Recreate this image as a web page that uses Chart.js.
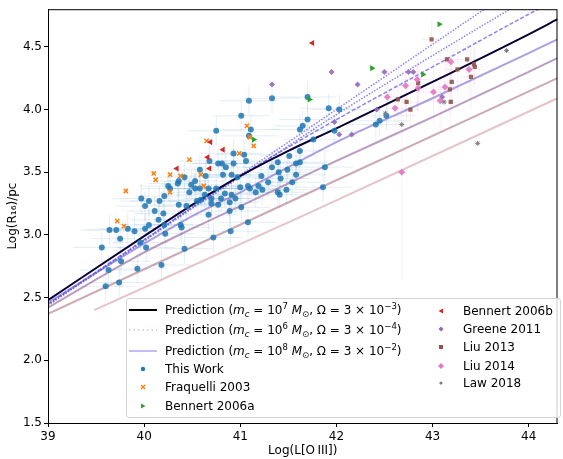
<!DOCTYPE html>
<html>
<head>
<meta charset="utf-8">
<script src="https://cdn.jsdelivr.net/npm/chart.js@4.4.1/dist/chart.umd.min.js"></script>
<style>
  body { margin: 0; background: #fff; }
  #wrap { position: relative; width: 563px; height: 459px; font-family: 'DejaVu Sans', sans-serif; }
  #legend {
    position: absolute; left: 126px; top: 298px; width: 433px; height: 118px;
    border: 1px solid #d4d4d4; border-radius: 3px; background: rgba(255,255,255,0.8);
    font-size: 12px; color: #000;
  }
  .row { position: absolute; display: flex; align-items: center; transform: translateY(-50%); white-space: nowrap; }
  .row svg { margin-right: 8px; flex: none; }
  .row sub, .row sup { font-size: 8.5px; line-height: 0; }
  .row i { font-style: italic; }
</style>
</head>
<body>
<div id="wrap">
  <canvas id="chart" width="563" height="459"></canvas>
  <div id="legend"></div>
</div>
<script>
// Prediction curves
const predL = [39, 40, 40.5, 41, 41.5, 42, 43, 44, 44.3];
const predBlack = [2.48, 2.99, 3.24, 3.47, 3.67, 3.85, 4.22, 4.60, 4.72];
const predDotted1 = [2.44, 2.96, 3.22, 3.48, 3.74, 4.00, 4.52, 5.04, 5.20];
const predDotted2 = [2.44, 2.95, 3.21, 3.46, 3.71, 3.96, 4.43, 4.89, 5.03];
const predDashed = [2.45, 2.96, 3.22, 3.47, 3.70, 3.92, 4.34, 4.76, 4.88];
const predPurple1 = [2.46, 2.93, 3.15, 3.34, 3.54, 3.74, 4.09, 4.45, 4.56];
const predPurple2 = [2.42, 2.86, 3.05, 3.23, 3.41, 3.59, 3.94, 4.30, 4.41];
const rosyL = [39, 41.7, 44.3];
const predRosy = [2.37, 3.33, 4.25];
const lightRosyL = [39.48, 41.7, 44.3];
const predLightRosy = [2.40, 3.17, 4.09];

// This Work
const thisWorkL = [
  39.56, 39.60, 39.63, 39.64, 39.71, 39.74, 39.75, 39.76, 39.83, 39.90,
  39.93, 39.96, 39.97, 40.01, 40.01, 40.02, 40.05, 40.05, 40.11, 40.15,
  40.16, 40.18, 40.20, 40.21, 40.21, 40.22, 40.25, 40.27, 40.35, 40.36,
  40.36, 40.38, 40.39, 40.42, 40.42, 40.44, 40.47, 40.49, 40.53, 40.53,
  40.55, 40.58, 40.58, 40.59, 40.63, 40.64, 40.67, 40.67, 40.68, 40.70,
  40.70, 40.72, 40.75, 40.75, 40.77, 40.77, 40.80, 40.81, 40.82, 40.84,
  40.85, 40.89, 40.89, 40.90, 40.91, 40.91, 40.93, 40.93, 40.95, 40.97,
  41.00, 41.01, 41.01, 41.04, 41.06, 41.08, 41.08, 41.09, 41.09, 41.10,
  41.11, 41.16, 41.19, 41.22, 41.23, 41.29, 41.33, 41.33, 41.39, 41.39,
  41.40, 41.41, 41.42, 41.48, 41.49, 41.51, 41.54, 41.58, 41.58, 41.62,
  41.62, 41.62, 41.65, 41.70, 41.70, 41.76, 41.86, 41.88, 41.92, 41.98,
  42.03, 42.41, 42.45, 42.52
];
const thisWorkR = [
  2.90, 2.59, 2.72, 3.04, 3.04, 2.62, 2.97, 2.79, 3.05, 3.03,
  2.73, 2.94, 3.29, 3.23, 3.05, 2.90, 3.27, 3.08, 3.19, 3.12,
  3.27, 2.76, 3.17, 3.31, 3.08, 3.01, 3.39, 3.37, 3.41, 3.43,
  3.24, 3.08, 3.06, 3.46, 2.89, 3.23, 3.34, 3.40, 3.43, 3.37,
  3.27, 3.52, 3.37, 3.28, 3.32, 3.47, 3.37, 3.16, 3.59, 3.29,
  3.25, 2.98, 3.83, 3.37, 3.57, 3.24, 3.29, 3.57, 3.48, 3.33,
  3.54, 3.26, 3.19, 3.03, 3.48, 3.32, 3.65, 3.57, 3.29, 3.46,
  3.38, 3.95, 3.22, 3.64, 3.59, 3.39, 3.10, 4.07, 3.79, 3.37,
  3.84, 3.34, 3.39, 3.47, 3.36, 3.42, 4.09, 3.54, 3.34, 3.58,
  3.50, 3.32, 3.45, 3.36, 3.52, 3.63, 3.42, 3.57, 3.48, 3.84,
  3.58, 3.67, 3.87, 4.10, 3.92, 3.76, 3.38, 3.54, 4.01, 3.83,
  4.00, 3.88, 3.91, 3.95
];
const THIS_WORK_LERR = 0.3;
const THIS_WORK_RERR = 0.12;

const fraquelliL = [40.47, 40.10, 40.27, 40.38, 40.12, 39.81, 40.27, 39.72, 39.79, 41.07, 41.10, 41.14, 40.65, 40.99, 40.59, 40.62];
const fraquelliR = [3.60, 3.49, 3.48, 3.47, 3.44, 3.35, 3.34, 3.11, 3.07, 3.87, 3.78, 3.71, 3.75, 3.65, 3.48, 3.39];

const bennertAL = [41.14, 41.72, 42.37, 42.90, 43.07];
const bennertAR = [3.76, 4.08, 4.33, 4.28, 4.68];

const bennertBL = [40.34, 40.69, 40.66, 40.82, 40.68, 41.75];
const bennertBR = [3.53, 3.74, 3.62, 3.68, 3.53, 4.53];

const greeneL = [41.33, 41.95, 42.22, 42.50, 42.75, 42.80, 41.98, 42.03, 42.16, 42.42, 43.10];
const greeneR = [4.20, 4.30, 4.20, 4.30, 4.30, 4.30, 3.90, 3.80, 3.80, 4.00, 4.10];

const liu13L = [42.99, 43.15, 43.36, 43.26, 43.43, 43.44, 43.40, 43.20, 43.18, 43.19, 42.85, 42.73, 42.64, 42.77];
const liu13R = [4.56, 4.40, 4.40, 4.32, 4.36, 4.34, 4.26, 4.22, 4.16, 4.06, 4.21, 4.06, 4.08, 4.00];
const liu13LErr = [0.10, 0.12, 0.10, 0.12, 0.10, 0.10, 0.12, 0.10, 0.12, 0.10, 0.10, 0.12, 0.10, 0.10];
const liu13RErr = [0.15, 0.20, 0.15, 0.20, 0.18, 0.15, 0.25, 0.20, 0.20, 0.25, 0.20, 0.15, 0.20, 0.15];

const liu14L = [43.19, 43.38, 42.84, 42.85, 42.72, 43.01, 43.13, 43.08, 42.61, 42.53, 42.68];
const liu14R = [4.38, 4.32, 4.24, 4.17, 4.19, 4.14, 4.18, 4.07, 4.01, 4.10, 3.50];
const liu14LErr = [0.12, 0.12, 0.15, 0.12, 0.12, 0.12, 0.15, 0.12, 0.12, 0.12, 0.06];
const liu14RErr = [0.20, 0.20, 0.25, 0.20, 0.20, 0.25, 0.20, 0.25, 0.20, 0.20, 0.85];

const lawL = [43.77, 43.47, 43.12, 42.68, 42.51];
const lawR = [4.47, 3.73, 4.06, 3.88, 3.97];

const pts = (xs, ys) => xs.map((x, i) => ({ x, y: ys[i] }));

const errorBars = {
  id: 'errorBars',
  beforeDatasetsDraw(chart) {
    const { ctx, chartArea, scales: { x, y } } = chart;
    ctx.save();
    ctx.beginPath();
    ctx.rect(chartArea.left, chartArea.top, chartArea.right - chartArea.left, chartArea.bottom - chartArea.top);
    ctx.clip();
    chart.data.datasets.forEach((ds) => {
      if (!ds.errors) return;
      ctx.strokeStyle = ds.errors.color;
      ctx.lineWidth = 1;
      ds.data.forEach((p, i) => {
        const xe = Array.isArray(ds.errors.x) ? ds.errors.x[i] : ds.errors.x;
        const ye = Array.isArray(ds.errors.y) ? ds.errors.y[i] : ds.errors.y;
        const px = x.getPixelForValue(p.x);
        const py = y.getPixelForValue(p.y);
        ctx.beginPath();
        ctx.moveTo(x.getPixelForValue(p.x - xe), py);
        ctx.lineTo(x.getPixelForValue(p.x + xe), py);
        ctx.moveTo(px, y.getPixelForValue(p.y - ye));
        ctx.lineTo(px, y.getPixelForValue(p.y + ye));
        ctx.stroke();
      });
    });
    ctx.restore();
  }
};

const frame = {
  id: 'frame',
  afterDraw(chart) {
    const { ctx, chartArea: a } = chart;
    ctx.save();
    ctx.strokeStyle = '#000';
    ctx.lineWidth = 1;
    ctx.strokeRect(a.left + 0.5, a.top + 0.5, a.right - a.left - 1, a.bottom - a.top);
    ctx.restore();
  }
};

function curve(xs, ys, color, width, dash) {
  return {
    type: 'line',
    data: pts(xs, ys),
    borderColor: color,
    borderWidth: width,
    borderDash: dash || [],
    pointRadius: 0,
    fill: false,
    cubicInterpolationMode: 'monotone',
  };
}

function marker(xs, ys, style, color, radius, extra) {
  return Object.assign({
    type: 'scatter',
    data: pts(xs, ys),
    pointStyle: style,
    backgroundColor: color,
    borderColor: color,
    borderWidth: 0,
    pointRadius: radius,
  }, extra || {});
}

const datasets = [
  marker(lawL, lawR, 'star', '#7f7f7f', 2.5, { borderWidth: 1 }),
  marker(liu14L, liu14R, 'rectRot', 'rgba(227,119,194,0.9)', 3.5, {
    errors: { x: liu14LErr, y: liu14RErr, color: 'rgba(227,119,194,0.12)' } }),
  marker(liu13L, liu13R, 'rect', 'rgba(140,86,75,0.9)', 3, {
    errors: { x: liu13LErr, y: liu13RErr, color: 'rgba(200,150,160,0.15)' } }),
  marker(greeneL, greeneR, 'rectRot', 'rgba(148,103,189,0.9)', 3),
  marker(bennertBL, bennertBR, 'triangle', '#d62728', 3.5, { rotation: -90 }),
  marker(bennertAL, bennertAR, 'triangle', '#2ca02c', 3.5, { rotation: 90 }),
  marker(fraquelliL, fraquelliR, 'crossRot', '#ff7f0e', 3, { borderWidth: 1.5 }),
  marker(thisWorkL, thisWorkR, 'circle', 'rgba(31,119,180,0.85)', 3, {
    errors: { x: THIS_WORK_LERR, y: THIS_WORK_RERR, color: 'rgba(31,119,180,0.12)' } }),
  curve(predL, predBlack, '#0a0033', 2),
  curve(predL, predDotted1, 'rgba(95,80,230,0.7)', 1.5, [1.5, 1.5]),
  curve(predL, predDotted2, 'rgba(95,80,230,0.7)', 1.5, [1.5, 1.5]),
  curve(predL, predDashed, 'rgba(95,80,230,0.7)', 1.5, [4, 2]),
  curve(predL, predPurple1, 'rgba(120,95,205,0.6)', 2),
  curve(predL, predPurple2, 'rgba(140,90,150,0.6)', 2),
  curve(rosyL, predRosy, 'rgba(160,100,120,0.55)', 2),
  curve(lightRosyL, predLightRosy, 'rgba(200,140,150,0.5)', 2),
];

const tickFont = { family: 'DejaVu Sans', size: 12 };

new Chart(document.getElementById('chart'), {
  type: 'scatter',
  data: { datasets },
  options: {
    responsive: false,
    animation: false,
    devicePixelRatio: 1,
    layout: { padding: { top: 3, right: 2, left: 0, bottom: 0 } },
    plugins: { legend: { display: false }, tooltip: { enabled: false } },
    scales: {
      x: {
        type: 'linear', min: 39, max: 44.3,
        afterFit: (s) => { s.height = 36; },
        grid: { drawOnChartArea: false, drawTicks: true, tickLength: 4, tickColor: '#000' },
        border: { display: true, color: '#000', width: 1 },
        ticks: { stepSize: 1, includeBounds: false, color: '#000', font: tickFont, padding: 3, maxRotation: 0,
          callback: (v) => String(v) },
        title: { display: true, text: 'Log(L[O\u2009III])', color: '#000', font: tickFont, padding: { top: 0, bottom: 1 } },
      },
      y: {
        type: 'linear', min: 1.5, max: 4.8,
        afterFit: (s) => { s.width = 48; },
        grid: { drawOnChartArea: false, drawTicks: true, tickLength: 4, tickColor: '#000' },
        border: { display: true, color: '#000', width: 1 },
        ticks: { stepSize: 0.5, includeBounds: false, color: '#000', font: tickFont, padding: 2,
          callback: (v) => v.toFixed(1) },
        title: { display: true, text: 'Log(R\u2081\u2086)/pc', color: '#000', font: tickFont, padding: { top: 6, bottom: 0 } },
      },
    },
  },
  plugins: [errorBars, frame],
});

// legend with math text
const lineSvg = (stroke, width, dash) =>
  `<svg width="28" height="10"><line x1="0" y1="5" x2="28" y2="5" stroke="${stroke}" stroke-width="${width}" ${dash ? `stroke-dasharray="${dash}"` : ''}/></svg>`;
const markSvg = (shape) => `<svg width="28" height="10">${shape}</svg>`;

const predText = (exp, omegaExp) =>
  `Prediction (<i>m</i><sub><i>c</i></sub> = 10<sup>${exp}</sup> <i>M</i><sub>⊙</sub>, Ω = 3 × 10<sup>−${omegaExp}</sup>)`;

const legendRows = [
  { left: 2, top: 11, handle: lineSvg('#000', 2), text: predText(7, 3) },
  { left: 2, top: 31, handle: lineSvg('rgba(200,140,150,0.6)', 1.5, '1.5 3'), text: predText(6, 4) },
  { left: 2, top: 52, handle: lineSvg('rgba(123,104,238,0.45)', 2), text: predText(8, 2) },
  { left: 2, top: 70, handle: markSvg('<circle cx="14" cy="5" r="2.2" fill="#1f77b4"/>'), text: 'This Work' },
  { left: 2, top: 88, handle: markSvg('<path d="M12 3L16 7M16 3L12 7" stroke="#ff7f0e" stroke-width="1.3"/>'), text: 'Fraquelli 2003' },
  { left: 2, top: 107, handle: markSvg('<path d="M12 2.5L16.5 5L12 7.5Z" fill="#2ca02c"/>'), text: 'Bennert 2006a' },
  { left: 300, top: 12, handle: markSvg('<path d="M16 2.5L11.5 5L16 7.5Z" fill="#d62728"/>'), text: 'Bennert 2006b' },
  { left: 300, top: 30, handle: markSvg('<path d="M14 2.5L16.5 5L14 7.5L11.5 5Z" fill="#9467bd"/>'), text: 'Greene 2011' },
  { left: 300, top: 48, handle: markSvg('<rect x="12" y="3" width="4" height="4" fill="#8c564b"/>'), text: 'Liu 2013' },
  { left: 300, top: 67, handle: markSvg('<path d="M14 2L17 5L14 8L11 5Z" fill="#e377c2"/>'), text: 'Liu 2014' },
  { left: 300, top: 84, handle: markSvg('<circle cx="14" cy="5" r="1.6" fill="#7f7f7f"/>'), text: 'Law 2018' },
];

const legendEl = document.getElementById('legend');
legendRows.forEach((r) => {
  const row = document.createElement('div');
  row.className = 'row';
  row.style.left = r.left + 'px';
  row.style.top = r.top + 'px';
  row.innerHTML = `${r.handle}<span>${r.text}</span>`;
  legendEl.appendChild(row);
});
</script>
</body>
</html>
